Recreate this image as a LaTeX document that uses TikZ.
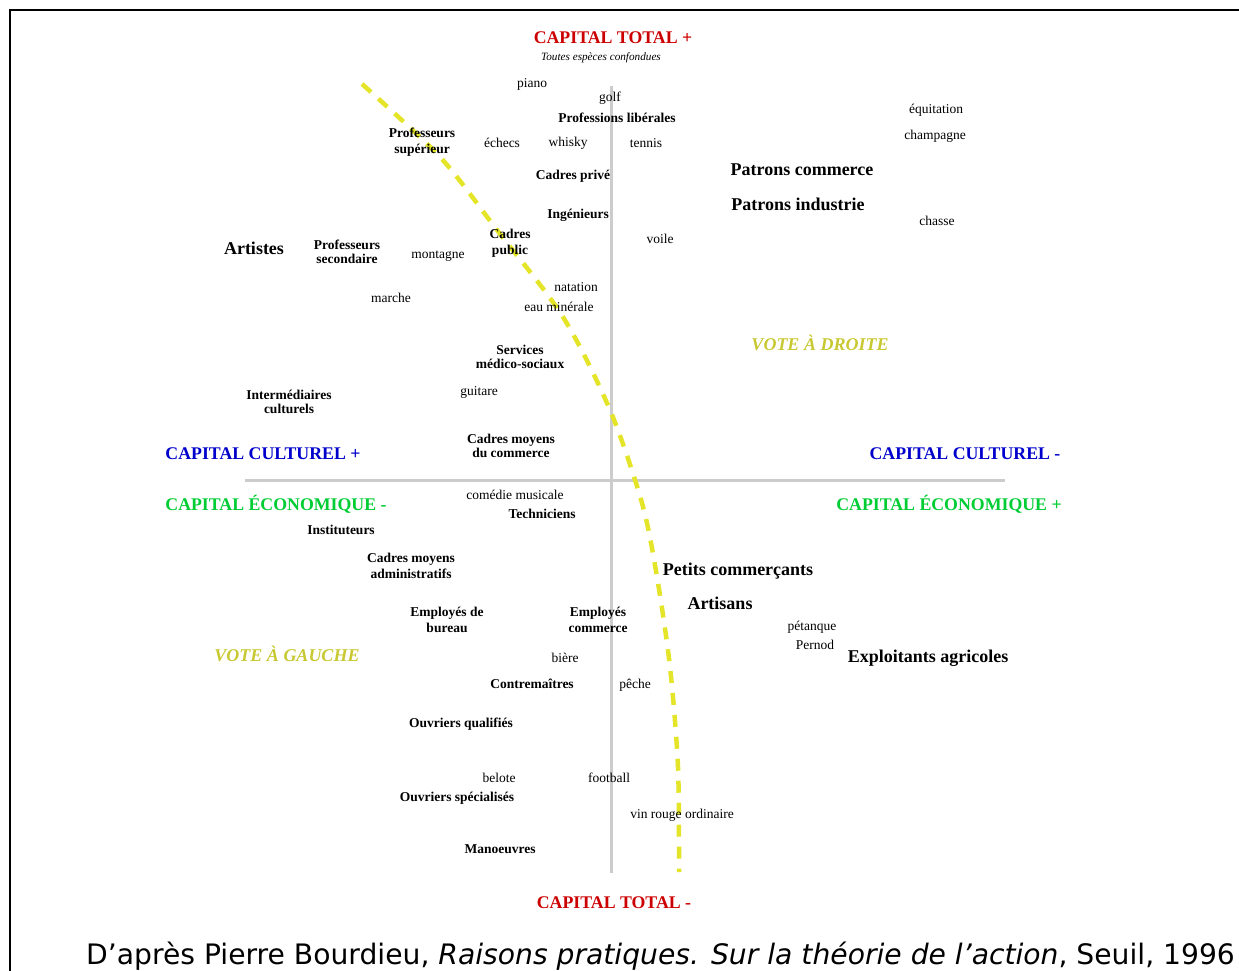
\documentclass[tikz,border=0pt]{standalone}
\usepackage{fontspec}
\setmainfont{Liberation Serif}
\newfontfamily\sourcefont{DejaVu Sans}
\definecolor{totalred}{RGB}{204,0,0}
\definecolor{culturblue}{RGB}{0,0,204}
\definecolor{ecogreen}{RGB}{0,204,51}
\definecolor{voteolive}{RGB}{200,200,50}
\definecolor{splitline}{RGB}{228,228,40}
\definecolor{axisgray}{RGB}{204,204,204}
\begin{document}
\begin{tikzpicture}[x=1pt,y=-1pt,
    every node/.style={inner sep=0pt,yshift=-1pt},
    word/.style={font=\fontsize{13.5}{15}\selectfont},
    group/.style={font=\fontsize{13.5}{14}\selectfont\bfseries,align=center},
    biggroup/.style={font=\fontsize{18}{20}\selectfont\bfseries},
    pole/.style={font=\fontsize{17.8}{20}\selectfont\bfseries},
    vote/.style={font=\fontsize{18}{20}\selectfont\bfseries\itshape,text=voteolive}]
    \useasboundingbox (0,0) rectangle (1239,971);
    \draw[line width=2pt] (1239,10) -- (10,10) -- (10,971);

    % axes
    \coordinate (W) at (245,479);
    \coordinate (E) at (1005,479);
    \coordinate (N) at (611,85);
    \coordinate (S) at (611,872);
    \draw[axisgray,line width=3pt] (W) -- (E);
    \draw[axisgray,line width=3pt] (N) -- (S);

    % left / right vote split
    \draw[splitline,line width=4.5pt,dash pattern=on 12pt off 10pt]
        plot[smooth] coordinates {(362,84) (440,157) (497,230) (563,317) (610,410)
                                  (642,503) (657,577) (670,667) (678,767) (679,872)};

    % poles
    \node[pole,text=totalred]   (totp) at (613,37)  {CAPITAL TOTAL +};
    \node[font=\fontsize{11.2}{13}\selectfont\itshape] (toutes) at (601,57) {Toutes espèces confondues};
    \node[pole,text=totalred]   (totm) at (614,902) {CAPITAL TOTAL -};
    \node[pole,text=culturblue] (culp) at (263,453) {CAPITAL CULTUREL +};
    \node[pole,text=culturblue] (culm) at (965,453) {CAPITAL CULTUREL -};
    \node[pole,text=ecogreen]   (ecom) at (276,503) {CAPITAL ÉCONOMIQUE -};
    \node[pole,text=ecogreen]   (ecop) at (949,503) {CAPITAL ÉCONOMIQUE +};
    \node[vote] (droite) at (820,342) {VOTE À DROITE};
    \node[vote] (gauche) at (287,653) {VOTE À GAUCHE};

    % professions
    \node[group] (liberales)  at (617,117) {Professions libérales};
    \node[group] (profsup)    at (422,141) {Professeurs\\[2pt]supérieur};
    \node[biggroup] (patcom)  at (802,169) {Patrons commerce};
    \node[biggroup] (patind)  at (798,203) {Patrons industrie};
    \node[group] (prive)      at (573,175) {Cadres privé};
    \node[group] (ingenieurs) at (578,214) {Ingénieurs};
    \node[group] (public)     at (510,242) {Cadres\\[2pt]public};
    \node[biggroup] (artistes) at (254,247) {Artistes};
    \node[group] (profsec)    at (347,251) {Professeurs\\secondaire};
    \node[group] (medico)     at (520,356) {Services\\médico-sociaux};
    \node[group] (intercult)  at (289,401) {Intermédiaires\\culturels};
    \node[group] (cmcom)      at (511,445) {Cadres moyens\\du commerce};
    \node[group] (techniciens) at (542,513) {Techniciens};
    \node[group] (instituteurs) at (341,529) {Instituteurs};
    \node[group] (cmadmin)    at (411,565) {Cadres moyens\\[2pt]administratifs};
    \node[biggroup] (petcom)  at (738,570) {Petits commerçants};
    \node[biggroup] (artisans) at (720,602) {Artisans};
    \node[group] (empbureau)  at (447,619) {Employés de\\[2pt]bureau};
    \node[group] (empcom)     at (598,619) {Employés\\[2pt]commerce};
    \node[biggroup] (agric)   at (928,657) {Exploitants agricoles};
    \node[group] (contrem)    at (532,683) {Contremaîtres};
    \node[group] (oq)         at (461,723) {Ouvriers qualifiés};
    \node[group] (os)         at (457,797) {Ouvriers spécialisés};
    \node[group] (manoeuvres) at (500,848) {Manoeuvres};

    % pratiques
    \node[word] (piano)     at (532,83)  {piano};
    \node[word] (golf)      at (610,97)  {golf};
    \node[word] (echecs)    at (502,142) {échecs};
    \node[word] (whisky)    at (568,142) {whisky};
    \node[word] (tennis)    at (646,142) {tennis};
    \node[word] (equitation) at (936,109) {équitation};
    \node[word] (champagne) at (935,135) {champagne};
    \node[word] (chasse)    at (937,220) {chasse};
    \node[word] (voile)     at (660,238) {voile};
    \node[word] (montagne)  at (438,255) {montagne};
    \node[word] (natation)  at (576,286) {natation};
    \node[word] (marche)    at (391,297) {marche};
    \node[word] (eau)       at (559,306) {eau minérale};
    \node[word] (guitare)   at (479,391) {guitare};
    \node[word] (comedie)   at (515,494) {comédie musicale};
    \node[word] (petanque)  at (812,626) {pétanque};
    \node[word] (pernod)    at (815,644) {Pernod};
    \node[word] (biere)     at (565,657) {bière};
    \node[word] (peche)     at (635,684) {pêche};
    \node[word] (belote)    at (499,777) {belote};
    \node[word] (football)  at (609,777) {football};
    \node[word] (vin)       at (682,814) {vin rouge ordinaire};

    % source
    \node[anchor=base west,yshift=1pt,font=\sourcefont\fontsize{28.2}{32}\selectfont] (source) at (86,964)
        {D’après Pierre Bourdieu, \textit{Raisons pratiques. Sur la théorie de l’action}, Seuil, 1996};
\end{tikzpicture}
\end{document}
